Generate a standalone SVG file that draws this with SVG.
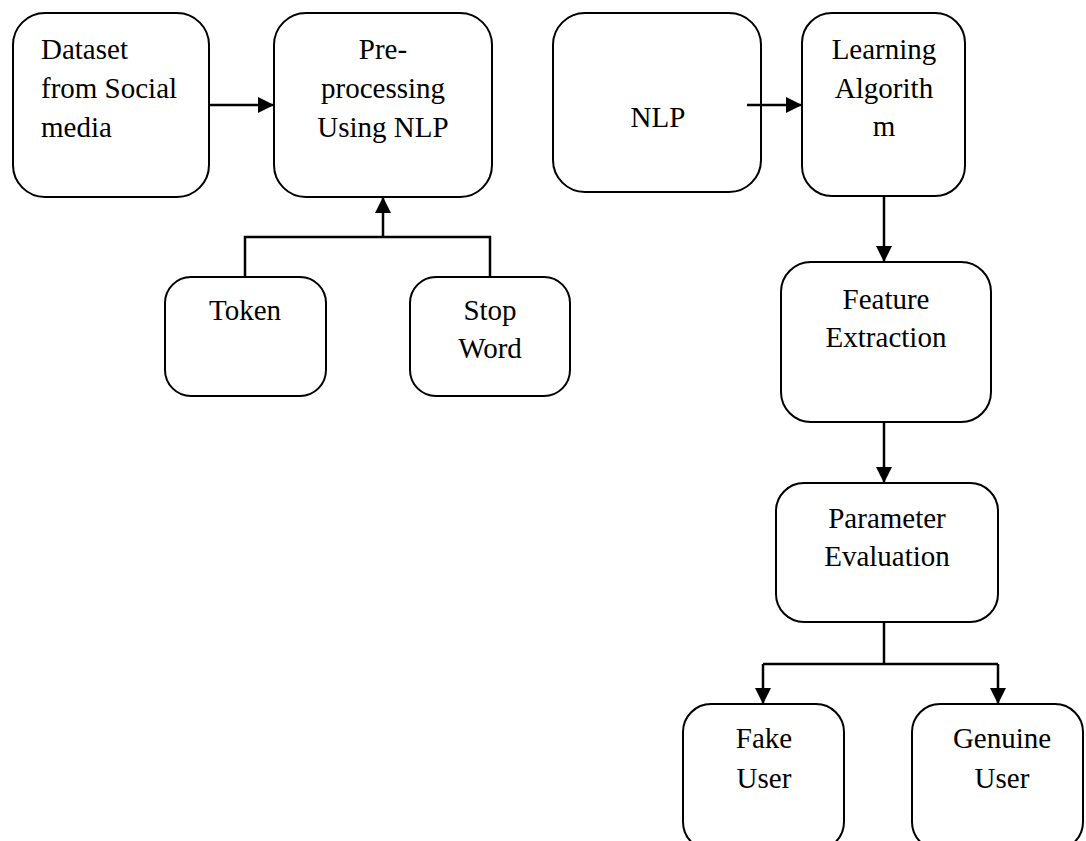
<svg xmlns="http://www.w3.org/2000/svg" width="1086" height="841" viewBox="0 0 1086 841">
<defs>
<style>
.box{fill:#fff;stroke:#000;stroke-width:2}
.lbl{font-family:"Liberation Serif","Times New Roman",serif;font-size:29px;fill:#000}
.c{text-anchor:middle}
.conn{fill:none;stroke:#000;stroke-width:2.5}
</style>
<marker id="ah" markerUnits="userSpaceOnUse" markerWidth="16" markerHeight="16" viewBox="0 0 16 16" refX="16" refY="8" orient="auto">
<path d="M0,0 L16,8 L0,16 Z" fill="#000"/>
</marker>
</defs>
<rect width="1086" height="841" fill="#fff"/>

<g id="dataset">
<rect class="box" x="13" y="13" width="196" height="184" rx="32"/>
<text class="lbl" x="41" y="59">Dataset</text>
<text class="lbl" x="41" y="98">from Social</text>
<text class="lbl" x="41" y="137">media</text>
</g>

<g id="preprocessing">
<rect class="box" x="274" y="13" width="218" height="184" rx="32"/>
<text class="lbl c" x="383" y="59">Pre-</text>
<text class="lbl c" x="383" y="98">processing</text>
<text class="lbl c" x="383" y="137">Using NLP</text>
</g>

<g id="token">
<rect class="box" x="165" y="277" width="161" height="119" rx="26"/>
<text class="lbl c" x="245" y="320">Token</text>
</g>

<g id="stopword">
<rect class="box" x="410" y="277" width="160" height="119" rx="26"/>
<text class="lbl c" x="490" y="320">Stop</text>
<text class="lbl c" x="490" y="358">Word</text>
</g>

<g id="nlp">
<rect class="box" x="553" y="13" width="208" height="179" rx="32"/>
<text class="lbl c" x="658" y="127">NLP</text>
</g>

<g id="learning">
<rect class="box" x="802" y="13" width="163" height="183" rx="30"/>
<text class="lbl c" x="884" y="59">Learning</text>
<text class="lbl c" x="884" y="98">Algorith</text>
<text class="lbl c" x="884" y="136">m</text>
</g>

<g id="feature">
<rect class="box" x="781" y="262" width="210" height="160" rx="30"/>
<text class="lbl c" x="886" y="309">Feature</text>
<text class="lbl c" x="886" y="347">Extraction</text>
</g>

<g id="parameter">
<rect class="box" x="776" y="483" width="222" height="139" rx="28"/>
<text class="lbl c" x="887" y="528">Parameter</text>
<text class="lbl c" x="887" y="566">Evaluation</text>
</g>

<g id="fake">
<rect class="box" x="683" y="704" width="161" height="146" rx="28"/>
<text class="lbl c" x="764" y="748">Fake</text>
<text class="lbl c" x="764" y="788">User</text>
</g>

<g id="genuine">
<rect class="box" x="912" y="704" width="171" height="146" rx="28"/>
<text class="lbl c" x="1002" y="748">Genuine</text>
<text class="lbl c" x="1002" y="788">User</text>
</g>

<g id="connectors">
<line class="conn" x1="209" y1="105" x2="274" y2="105" marker-end="url(#ah)"/>
<path class="conn" d="M245,277 V237 H490 V277"/>
<line class="conn" x1="383" y1="237" x2="383" y2="197" marker-end="url(#ah)"/>
<line class="conn" x1="747" y1="105" x2="802" y2="105" marker-end="url(#ah)"/>
<line class="conn" x1="884" y1="196" x2="884" y2="262" marker-end="url(#ah)"/>
<line class="conn" x1="884" y1="422" x2="884" y2="483" marker-end="url(#ah)"/>
<line class="conn" x1="884" y1="622" x2="884" y2="664"/>
<path class="conn" d="M763,664 H998"/>
<line class="conn" x1="763" y1="664" x2="763" y2="704" marker-end="url(#ah)"/>
<line class="conn" x1="998" y1="664" x2="998" y2="704" marker-end="url(#ah)"/>
</g>
</svg>
